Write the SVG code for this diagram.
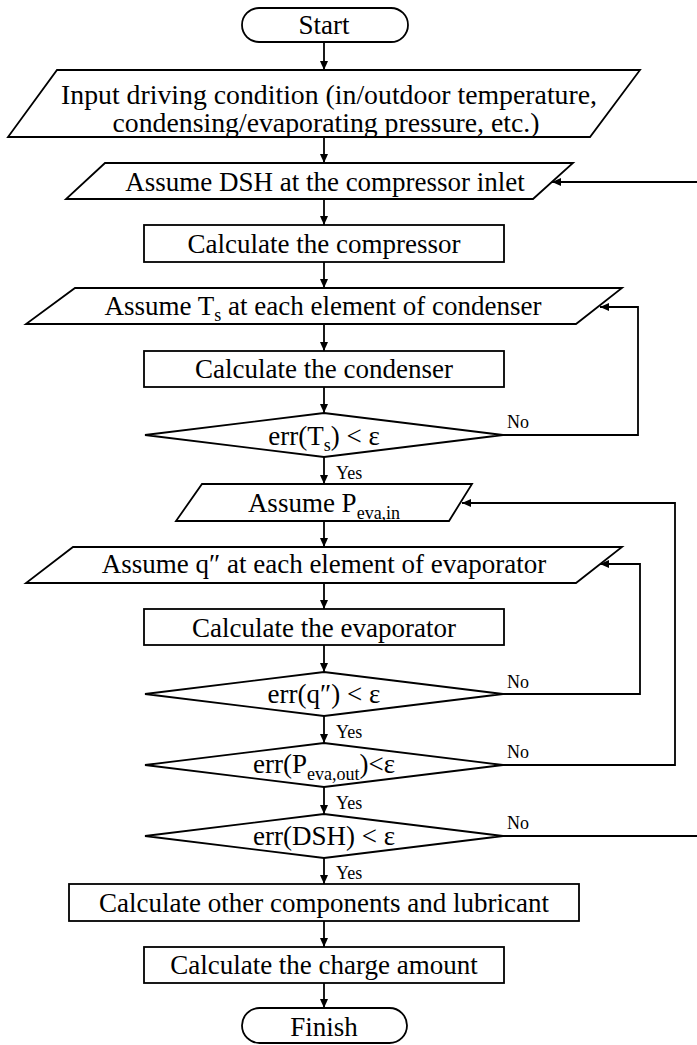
<svg xmlns="http://www.w3.org/2000/svg" width="697" height="1045" viewBox="0 0 697 1045">
<defs>
<marker id="ah" markerWidth="9" markerHeight="8" refX="9" refY="4" orient="auto" markerUnits="userSpaceOnUse">
<path d="M0,0 L9,4 L0,8 z" fill="#000"/>
</marker>
<style>
.s{fill:#fff;stroke:#000;stroke-width:1.8}
.t{font-family:"Liberation Serif","Times New Roman",serif;font-size:27px;fill:#000;text-anchor:middle}
.sm{font-family:"Liberation Serif","Times New Roman",serif;font-size:18px;fill:#000}
.c{fill:none;stroke:#000;stroke-width:1.8}
</style>
</defs>
<rect width="697" height="1045" fill="#fff"/>
<g id="start"><rect class="s" x="242" y="8" width="166" height="34" rx="17"/><text class="t" x="324" y="34">Start</text></g>
<g id="input"><polygon class="s" points="57,70 640,70 590,137 8,137"/><text class="t" x="329" y="103.5" font-size="25" textLength="536" lengthAdjust="spacingAndGlyphs">Input driving condition (in/outdoor temperature,</text><text class="t" x="326" y="131.5" font-size="25" textLength="427" lengthAdjust="spacingAndGlyphs">condensing/evaporating pressure, etc.)</text></g>
<g id="assumeDSH"><polygon class="s" points="105,163 573,163 533,199 66,199"/><text class="t" x="325" y="191">Assume DSH at the compressor inlet</text></g>
<g id="compressor"><rect class="s" x="144" y="225" width="360" height="37"/><text class="t" x="324" y="253">Calculate the compressor</text></g>
<g id="assumeTs"><polygon class="s" points="75,288 622,288 576,324 26,324"/><text class="t" x="323" y="315">Assume T<tspan font-size="18" dy="6">s</tspan><tspan dy="-6"> at each element of condenser</tspan></text></g>
<g id="condenser"><rect class="s" x="144" y="351" width="360" height="36"/><text class="t" x="324" y="378">Calculate the condenser</text></g>
<g id="errTs"><polygon class="s" points="145,435 324,413 503,435 324,457"/><text class="t" x="324" y="445">err(T<tspan font-size="18" dy="6">s</tspan><tspan dy="-6">) &lt; ε</tspan></text></g>
<g id="assumePeva"><polygon class="s" points="202,484 472,484 449,521 176,521"/><text class="t" x="324" y="512">Assume P<tspan font-size="18" dy="7">eva,in</tspan></text></g>
<g id="assumeQ"><polygon class="s" points="73,547 622,547 576,583 26,583"/><text class="t" x="324" y="573">Assume q″ at each element of evaporator</text></g>
<g id="evaporator"><rect class="s" x="144" y="609" width="360" height="36"/><text class="t" x="324" y="637">Calculate the evaporator</text></g>
<g id="errQ"><polygon class="s" points="145,694 324,672 503,694 324,716"/><text class="t" x="324" y="703">err(q″) &lt; ε</text></g>
<g id="errPeva"><polygon class="s" points="145,765 324,743 503,765 324,787"/><text class="t" x="324" y="773">err(P<tspan font-size="18" dy="7">eva,out</tspan><tspan dy="-7">)&lt;ε</tspan></text></g>
<g id="errDSH"><polygon class="s" points="145,836 324,814 503,836 324,858"/><text class="t" x="324" y="845">err(DSH) &lt; ε</text></g>
<g id="other"><rect class="s" x="69" y="884" width="510" height="37"/><text class="t" x="324" y="912">Calculate other components and lubricant</text></g>
<g id="charge"><rect class="s" x="144" y="947" width="360" height="36"/><text class="t" x="324" y="974">Calculate the charge amount</text></g>
<g id="finish"><rect class="s" x="242" y="1008" width="165" height="35" rx="17.5"/><text class="t" x="324" y="1036">Finish</text></g>
<g id="connectors">
<line class="c" x1="324" y1="42" x2="324" y2="70" marker-end="url(#ah)"/>
<line class="c" x1="324" y1="137" x2="324" y2="163" marker-end="url(#ah)"/>
<line class="c" x1="324" y1="199" x2="324" y2="225" marker-end="url(#ah)"/>
<line class="c" x1="324" y1="262" x2="324" y2="288" marker-end="url(#ah)"/>
<line class="c" x1="324" y1="324" x2="324" y2="351" marker-end="url(#ah)"/>
<line class="c" x1="324" y1="387" x2="324" y2="413" marker-end="url(#ah)"/>
<line class="c" x1="324" y1="457" x2="324" y2="484" marker-end="url(#ah)"/>
<line class="c" x1="324" y1="521" x2="324" y2="547" marker-end="url(#ah)"/>
<line class="c" x1="324" y1="583" x2="324" y2="609" marker-end="url(#ah)"/>
<line class="c" x1="324" y1="645" x2="324" y2="672" marker-end="url(#ah)"/>
<line class="c" x1="324" y1="716" x2="324" y2="743" marker-end="url(#ah)"/>
<line class="c" x1="324" y1="787" x2="324" y2="814" marker-end="url(#ah)"/>
<line class="c" x1="324" y1="858" x2="324" y2="884" marker-end="url(#ah)"/>
<line class="c" x1="324" y1="921" x2="324" y2="947" marker-end="url(#ah)"/>
<line class="c" x1="324" y1="983" x2="324" y2="1008" marker-end="url(#ah)"/>
<polyline class="c" points="503,435 638,435 638,307 600,307" marker-end="url(#ah)"/>
<polyline class="c" points="503,694 640,694 640,564 600,564" marker-end="url(#ah)"/>
<polyline class="c" points="503,765 675,765 675,503 462,503" marker-end="url(#ah)"/>
<line class="c" x1="503" y1="836" x2="697" y2="836"/>
<line class="c" x1="697" y1="182" x2="552" y2="182" marker-end="url(#ah)"/>
<text class="sm" x="507" y="428">No</text>
<text class="sm" x="336" y="479">Yes</text>
<text class="sm" x="507" y="688">No</text>
<text class="sm" x="336" y="738">Yes</text>
<text class="sm" x="507" y="758">No</text>
<text class="sm" x="336" y="809">Yes</text>
<text class="sm" x="507" y="829">No</text>
<text class="sm" x="336" y="879">Yes</text>
</g>
</svg>
